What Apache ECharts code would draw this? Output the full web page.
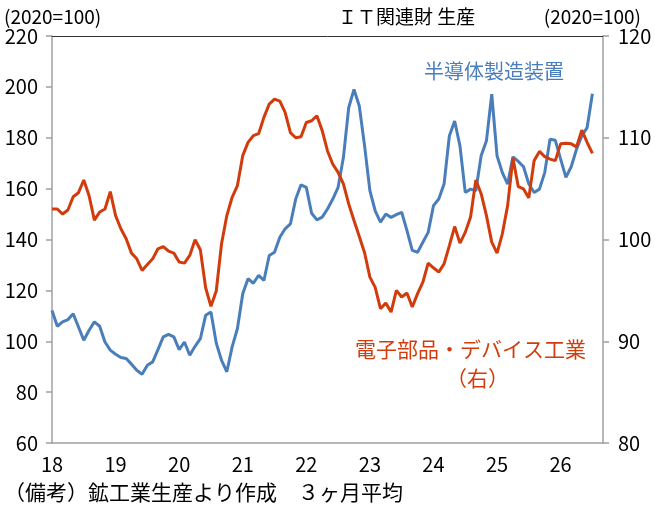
<!DOCTYPE html>
<html>
<head>
<meta charset="utf-8">
<script src="https://cdn.jsdelivr.net/npm/echarts@6/dist/echarts.min.js"></script>
<style>
  html, body { margin: 0; padding: 0; background: #fff; }
  #main { width: 655px; height: 511px; }
</style>
</head>
<body>
<div id="main"></div>
<script>
// 年ラベル（1月の位置に表示）
var years = ['18', '19', '20', '21', '22', '23', '24', '25', '26'];
var monthCount = 105; // 軸は2026年9月まで

// 半導体製造装置（左軸） 2018/1〜2026/7
var semiEquip = [
  112.1, 105.9, 107.6, 108.5, 110.8, 105.6, 100.4, 104.3, 107.6, 105.9, 99.7, 96.5,
  94.9, 93.6, 93.2, 91.0, 88.6, 87.0, 90.6, 91.9, 96.7, 101.7, 102.7, 101.7,
  96.7, 99.7, 94.5, 98.0, 101.0, 110.2, 111.5, 99.3, 92.5, 88.0, 97.8, 105.0,
  118.7, 124.6, 122.8, 125.9, 123.9, 133.7, 135.0, 140.9, 144.2, 146.1, 155.9, 161.5,
  160.5, 150.3, 147.7, 148.8, 152.0, 155.9, 160.5, 172.2, 191.8, 199.0, 192.5, 176.8,
  159.2, 151.3, 146.8, 150.0, 148.7, 149.8, 150.7, 143.5, 135.7, 135.0, 138.9, 142.8,
  153.3, 155.9, 161.8, 180.7, 186.6, 176.8, 158.5, 159.8, 159.2, 172.9, 178.8, 197.1,
  172.9, 166.3, 161.8, 172.5, 170.7, 168.6, 161.8, 158.5, 159.8, 166.3, 179.4, 179.0,
  171.6, 164.4, 168.6, 175.5, 180.7, 184.0, 197.3
];

// 電子部品・デバイス工業（右軸）
var elecParts = [
  103.0, 103.0, 102.5, 102.9, 104.2, 104.6, 105.85, 104.3, 101.9, 102.7, 103.0, 104.7,
  102.35, 101.05, 100.07, 98.66, 98.1, 96.96, 97.55, 98.1, 99.09, 99.31, 98.85, 98.66,
  97.78, 97.68, 98.43, 99.97, 98.99, 95.26, 93.43, 94.93, 99.58, 102.35, 104.15, 105.3,
  108.24, 109.54, 110.2, 110.4, 112.0, 113.3, 113.8, 113.6, 112.5, 110.5, 110.0, 110.1,
  111.5, 111.67, 112.16, 110.7, 108.7, 107.4, 106.6, 105.46, 103.5, 101.86, 100.3, 98.7,
  96.3, 95.3, 93.2, 93.75, 92.87, 95.0, 94.35, 94.74, 93.36, 94.68, 95.8, 97.68,
  97.22, 96.8, 97.6, 99.4, 101.27, 99.64, 100.7, 102.2, 105.85, 104.5, 102.35, 99.74,
  98.66, 100.56, 103.33, 108.0, 105.2, 104.97, 104.09, 107.75, 108.66, 108.14, 107.9, 107.75,
  109.4, 109.45, 109.4, 109.1, 110.75, 109.54, 108.46
];

var blue = '#4a7ebb';
var red = '#d23c0c';
var axisGray = '#a0a0a0';
var font = "'Noto Sans CJK JP', 'Noto Sans', sans-serif";

// 月次カテゴリ
var months = [];
for (var i = 0; i < monthCount; i++) {
  var y = years[Math.floor(i / 12)] || String(18 + Math.floor(i / 12));
  months.push(y + '/' + (i % 12 + 1));
}

var chart = echarts.init(document.getElementById('main'));

var option = {
  animation: false,
  backgroundColor: '#fff',
  textStyle: { fontFamily: font },
  grid: { left: 52, right: 52, top: 36, bottom: 68 },
  xAxis: [{
    type: 'category',
    data: months,
    boundaryGap: false,
    axisLine: { lineStyle: { color: axisGray, width: 1.5 } },
    axisTick: { show: false },
    axisLabel: {
      interval: 11,
      margin: 11,
      color: '#000',
      fontSize: 20,
      fontFamily: font,
      formatter: function (v) { return v.split('/')[0]; }
    },
    splitLine: { show: false }
  }, {
    // 上枠線
    type: 'category',
    data: months,
    position: 'top',
    boundaryGap: false,
    axisLine: { lineStyle: { color: '#333', width: 1 } },
    axisTick: { show: false },
    axisLabel: { show: false }
  }],
  yAxis: [{
    type: 'value',
    min: 60,
    max: 220,
    interval: 20,
    axisLine: { show: true, lineStyle: { color: axisGray, width: 1.5 } },
    axisTick: { show: true, length: 6, lineStyle: { color: axisGray, width: 1.5 } },
    axisLabel: { color: '#000', fontSize: 20, margin: 14, fontFamily: font },
    splitLine: { show: false }
  }, {
    type: 'value',
    min: 80,
    max: 120,
    interval: 10,
    position: 'right',
    axisLine: { show: true, lineStyle: { color: axisGray, width: 1.5 } },
    axisTick: { show: true, length: 6, lineStyle: { color: axisGray, width: 1.5 } },
    axisLabel: { color: '#000', fontSize: 20, margin: 15, fontFamily: font },
    splitLine: { show: false }
  }],
  series: [{
    name: '半導体製造装置',
    type: 'line',
    yAxisIndex: 0,
    data: semiEquip,
    symbol: 'none',
    lineStyle: { color: blue, width: 3 },
    z: 3
  }, {
    name: '電子部品・デバイス工業',
    type: 'line',
    yAxisIndex: 1,
    data: elecParts,
    symbol: 'none',
    lineStyle: { color: red, width: 3 },
    z: 4
  }],
  graphic: [
    { type: 'text', left: 338, top: 7, style: { text: 'ＩＴ関連財 生産', fill: '#000', font: '19px ' + font, textAlign: 'center' } },
    { type: 'text', left: 4, top: 7, style: { text: '(2020=100)', fill: '#000', font: '19px ' + font } },
    { type: 'text', right: 14, top: 7, style: { text: '(2020=100)', fill: '#000', font: '19px ' + font } },
    { type: 'text', left: 424, top: 61, style: { text: '半導体製造装置', fill: blue, font: '20px ' + font } },
    { type: 'text', left: 355, top: 339, style: { text: '電子部品・デバイス工業', fill: red, font: '21px ' + font } },
    { type: 'text', left: 446, top: 368, style: { text: '（右）', fill: red, font: '21px ' + font } },
    { type: 'text', left: 4, top: 482, style: { text: '（備考）鉱工業生産より作成　３ヶ月平均', fill: '#000', font: '21px ' + font } }
  ]
};

chart.setOption(option);
</script>
</body>
</html>
